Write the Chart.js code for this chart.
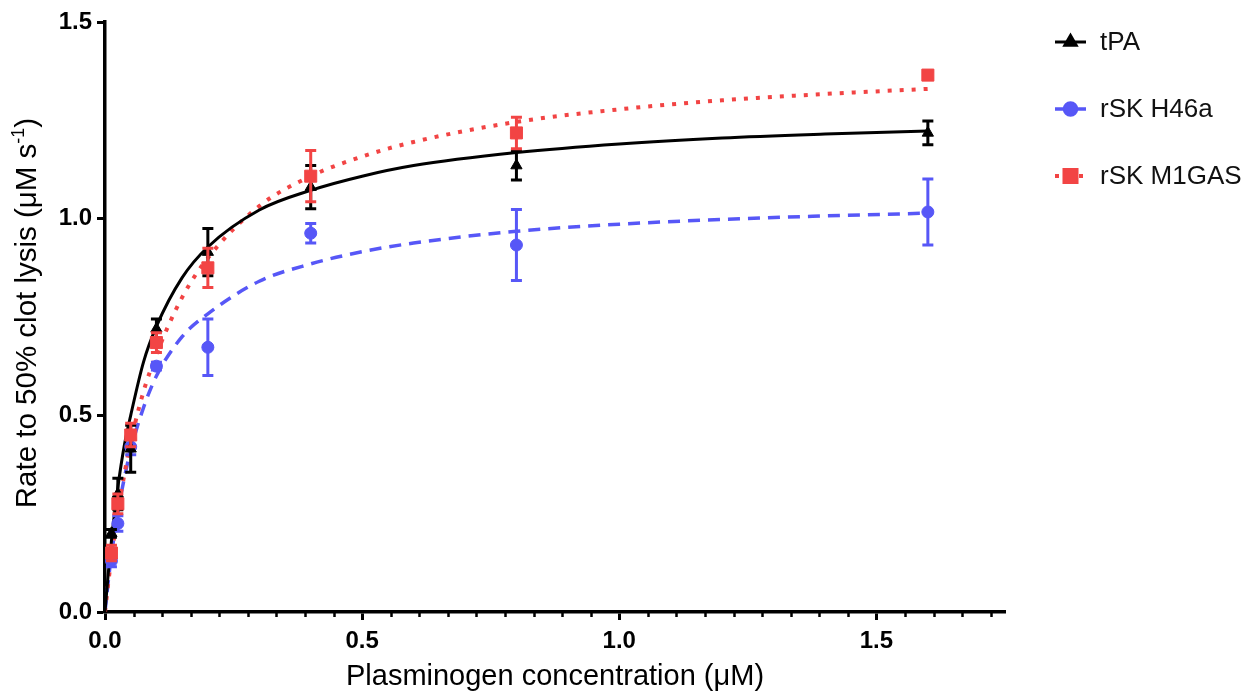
<!DOCTYPE html>
<html>
<head>
<meta charset="utf-8">
<script src="https://cdn.jsdelivr.net/npm/chart.js@4.4.1/dist/chart.umd.min.js"></script>
<style>
  html, body { margin: 0; padding: 0; background: #fff; }
  #wrap { width: 1259px; height: 695px; position: relative; }
</style>
</head>
<body>
<div id="wrap"><canvas id="c"></canvas></div>
<script>
// Plasminogen concentrations (µM) at which the clot lysis rate was measured
const concentrations = [0.0125, 0.025, 0.05, 0.1, 0.2, 0.4, 0.8, 1.6];

// Mean rate to 50% clot lysis (µM s^-1) and error (±) per activator
const tpaRate   = [0.200, 0.300, 0.415, 0.720, 0.915, 1.080, 1.135, 1.218];
const tpaErr    = [0.010, 0.040, 0.060, 0.025, 0.060, 0.055, 0.037, 0.030];
const h46aRate  = [0.130, 0.225, 0.420, 0.625, 0.673, 0.963, 0.933, 1.017];
const h46aErr   = [0.015, 0.020, 0.020, 0.010, 0.072, 0.025, 0.090, 0.084];
const m1gasRate = [0.150, 0.275, 0.450, 0.685, 0.875, 1.108, 1.218, 1.365];
const m1gasErr  = [0.020, 0.025, 0.030, 0.025, 0.050, 0.065, 0.040, 0.010];

// Fitted saturation curves, sampled along the concentration axis
const fitConcentrations = [0, 0.00625, 0.0125, 0.025, 0.0375, 0.05, 0.075, 0.1, 0.15, 0.2, 0.3, 0.4, 0.5, 0.6, 0.8, 1.0, 1.2, 1.4, 1.6];
const tpaFit   = [0, 0.097, 0.181, 0.317, 0.423, 0.500, 0.636, 0.726, 0.850, 0.928, 1.022, 1.072, 1.108, 1.135, 1.168, 1.190, 1.205, 1.215, 1.223];
const h46aFit  = [0, 0.077, 0.144, 0.254, 0.340, 0.412, 0.520, 0.600, 0.700, 0.758, 0.841, 0.885, 0.916, 0.938, 0.968, 0.986, 0.998, 1.007, 1.014];
const m1gasFit = [0, 0.073, 0.139, 0.253, 0.349, 0.432, 0.561, 0.655, 0.800, 0.900, 1.032, 1.108, 1.158, 1.195, 1.246, 1.278, 1.301, 1.317, 1.330];

const seriesNames = ['tPA', 'rSK H46a', 'rSK M1GAS'];
const xTickValues = [0, 0.5, 1.0, 1.5];
const yTickValues = [0, 0.5, 1.0, 1.5];
const xTitle = 'Plasminogen concentration (μM)';
const yTitleMain = 'Rate to 50% clot lysis (μM s';
const yTitleSup = '-1';
const yTitleTail = ')';

const FONT = "'Liberation Sans', Arial, Helvetica, sans-serif";
const BLACK = '#000000';
const BLUE = '#5757f7';
const RED = '#f24444';

const pairs = (xs, ys) => xs.map((x, i) => ({ x: x, y: ys[i] }));

const styles = [
  { color: BLACK, dash: [], width: 3, point: 'triangle', radius: 6.5 },
  { color: BLUE, dash: [12, 8], width: 3.5, point: 'circle', radius: 6 },
  { color: RED, dash: [4, 8], width: 4, point: 'rect', radius: 8.5 }
];

// Error bars are drawn just underneath each point series
const errorBarsPlugin = {
  id: 'errorBars',
  beforeDatasetDraw(chart, args) {
    const ds = chart.data.datasets[args.index];
    if (!ds.errors) return;
    const xs = chart.scales.x, ys = chart.scales.y, ctx = chart.ctx;
    ctx.save();
    ctx.strokeStyle = ds.borderColor;
    ctx.lineWidth = 3;
    ctx.lineCap = 'butt';
    ds.data.forEach((p, i) => {
      const e = ds.errors[i];
      const x = xs.getPixelForValue(p.x);
      const yTop = ys.getPixelForValue(p.y + e);
      const yBot = ys.getPixelForValue(p.y - e);
      ctx.beginPath();
      ctx.moveTo(x, yTop); ctx.lineTo(x, yBot);
      ctx.moveTo(x - 5.5, yTop); ctx.lineTo(x + 5.5, yTop);
      ctx.moveTo(x - 5.5, yBot); ctx.lineTo(x + 5.5, yBot);
      ctx.stroke();
    });
    ctx.restore();
  }
};

// Minor ticks on the concentration axis, y-axis title with superscript, legend
const decorPlugin = {
  id: 'decor',
  afterDraw(chart) {
    const ctx = chart.ctx, xs = chart.scales.x, area = chart.chartArea;
    ctx.save();
    // minor ticks every 1/18 µM
    ctx.strokeStyle = BLACK;
    ctx.lineWidth = 2.5;
    ctx.beginPath();
    for (let k = 1; k / 18 <= xs.max + 1e-9; k++) {
      if (k % 9 === 0) continue;
      const px = Math.round(xs.getPixelForValue(k / 18)) + 0.5;
      ctx.moveTo(px, area.bottom);
      ctx.lineTo(px, area.bottom + 5);
    }
    ctx.stroke();

    // rotated y-axis title
    ctx.fillStyle = BLACK;
    ctx.translate(36, 313);
    ctx.rotate(-Math.PI / 2);
    ctx.textBaseline = 'alphabetic';
    ctx.textAlign = 'left';
    ctx.font = '29.5px ' + FONT;
    const w1 = ctx.measureText(yTitleMain).width;
    const w3 = ctx.measureText(yTitleTail).width;
    ctx.font = '18px ' + FONT;
    const w2 = ctx.measureText(yTitleSup).width;
    let sx = -(w1 + w2 + w3) / 2;
    ctx.font = '29.5px ' + FONT;
    ctx.fillText(yTitleMain, sx, 0);
    ctx.font = '18px ' + FONT;
    ctx.fillText(yTitleSup, sx + w1, -12);
    ctx.font = '29.5px ' + FONT;
    ctx.fillText(yTitleTail, sx + w1 + w2, 0);
    ctx.restore();

    // legend
    ctx.save();
    const rows = [42, 109, 176];
    seriesNames.forEach((name, i) => {
      const st = styles[i];
      const y = rows[i];
      ctx.strokeStyle = st.color;
      ctx.lineWidth = st.width;
      ctx.setLineDash(st.dash);
      ctx.beginPath();
      ctx.moveTo(1055, y);
      ctx.lineTo(1086, y);
      ctx.stroke();
      ctx.setLineDash([]);
      ctx.fillStyle = st.color;
      Chart.helpers.drawPoint(ctx, { pointStyle: st.point, radius: st.radius, rotation: 0, borderWidth: 1 }, 1070.5, y);
      ctx.fill();
      ctx.fillStyle = '#111';
      ctx.font = '26px ' + FONT;
      ctx.textBaseline = 'middle';
      ctx.textAlign = 'left';
      ctx.fillText(name, 1100, y + 1);
    });
    ctx.restore();
  }
};

const fitSets = [tpaFit, h46aFit, m1gasFit];
const rateSets = [tpaRate, h46aRate, m1gasRate];
const errSets = [tpaErr, h46aErr, m1gasErr];
const curveOrder = [4, 6, 5];
const pointOrder = [2, 3, 1];

const datasets = [];
seriesNames.forEach((name, i) => {
  const st = styles[i];
  datasets.push({
    label: name + ' fit',
    data: pairs(fitConcentrations, fitSets[i]),
    showLine: true,
    borderColor: st.color,
    borderWidth: st.width,
    borderDash: st.dash,
    borderCapStyle: 'butt',
    cubicInterpolationMode: 'monotone',
    pointRadius: 0,
    pointHoverRadius: 0,
    order: curveOrder[i]
  });
  datasets.push({
    label: name,
    data: pairs(concentrations, rateSets[i]),
    errors: errSets[i],
    showLine: false,
    borderColor: st.color,
    backgroundColor: st.color,
    pointStyle: st.point,
    pointRadius: st.radius,
    pointBorderWidth: 1,
    order: pointOrder[i]
  });
});

new Chart(document.getElementById('c'), {
  type: 'scatter',
  data: { datasets: datasets },
  options: {
    responsive: true,
    maintainAspectRatio: false,
    animation: false,
    events: [],
    layout: { padding: { left: 0, right: 254, top: 22, bottom: 0 } },
    plugins: { legend: { display: false }, tooltip: { enabled: false } },
    scales: {
      x: {
        type: 'linear',
        min: 0, max: 1.75,
        afterFit(scale) { scale.height = 83; },
        afterBuildTicks(scale) { scale.ticks = xTickValues.map(v => ({ value: v })); },
        border: { display: true, color: BLACK, width: 3.5 },
        grid: { drawOnChartArea: false, drawTicks: true, tickLength: 8, tickWidth: 3, tickColor: BLACK },
        ticks: {
          color: BLACK, padding: 7, maxRotation: 0,
          font: { family: FONT, size: 24, weight: 'bold' },
          callback: v => Number(v).toFixed(1)
        },
        title: {
          display: true, text: xTitle, color: BLACK,
          font: { family: FONT, size: 29 },
          padding: { top: 0, bottom: 1 }
        }
      },
      y: {
        type: 'linear',
        min: 0, max: 1.5,
        afterFit(scale) { scale.width = 105; },
        afterBuildTicks(scale) { scale.ticks = yTickValues.map(v => ({ value: v })); },
        border: { display: true, color: BLACK, width: 3.5 },
        grid: { drawOnChartArea: false, drawTicks: true, tickLength: 8, tickWidth: 3, tickColor: BLACK },
        ticks: {
          color: BLACK, padding: 5,
          font: { family: FONT, size: 24, weight: 'bold' },
          callback: v => Number(v).toFixed(1)
        },
        title: { display: false }
      }
    }
  },
  plugins: [errorBarsPlugin, decorPlugin]
});
</script>
</body>
</html>
